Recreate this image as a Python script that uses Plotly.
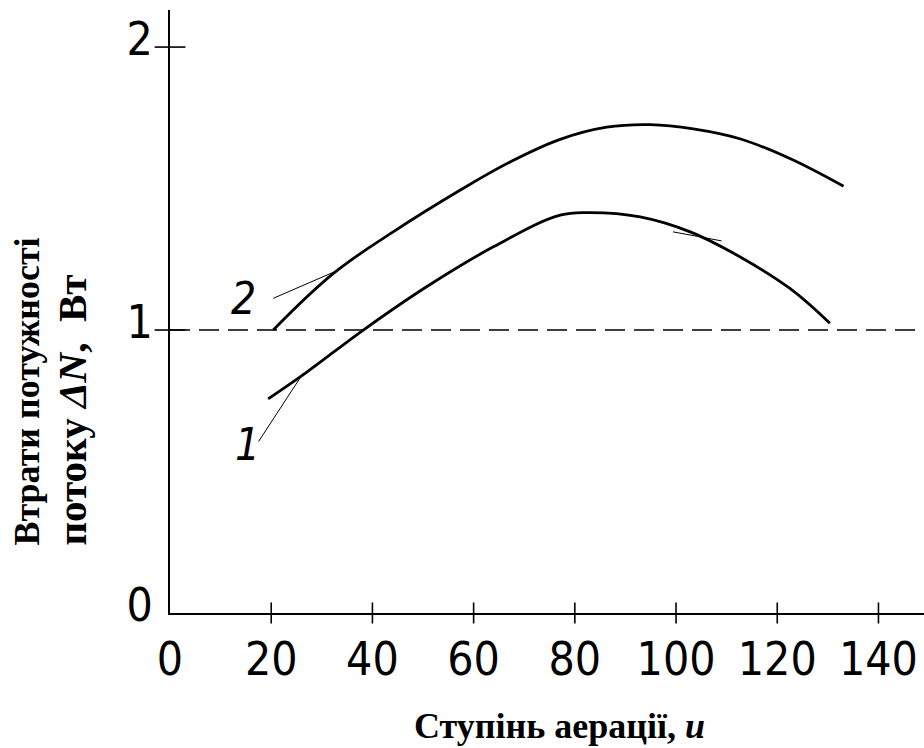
import plotly.graph_objects as go

# Aeration degree u and power-loss readings for the two curves
u_curve1 = [19.4, 26.7, 38.2, 50.7, 63.9, 77.1, 83.0, 92.9, 102.8, 112.6, 122.5, 130.4]
dn_curve1 = [0.757, 0.847, 1.000, 1.153, 1.294, 1.406, 1.415, 1.400, 1.347, 1.259, 1.147, 1.024]

u_curve2 = [20.4, 32.3, 44.1, 57.3, 67.2, 77.1, 86.3, 94.9, 103.4, 112.6, 122.5, 133.1]
dn_curve2 = [1.000, 1.200, 1.347, 1.494, 1.594, 1.674, 1.717, 1.726, 1.711, 1.676, 1.606, 1.508]

# Reference level drawn as a dashed line
ref_level = 1.0

# Axis ticks
x_tick_vals = [0, 20, 40, 60, 80, 100, 120, 140]
y_tick_vals = [0, 1, 2]

# Curve labels and their leader lines (u, ΔN)
label_text = ["1", "2"]
label_u = [15.4, 14.6]
label_dn = [0.594, 1.113]
leader1_u = [17.5, 26.3]
leader1_dn = [0.606, 0.847]
leader2_u = [20.4, 33.3]
leader2_dn = [1.112, 1.212]
leader3_u = [99.4, 109.0]
leader3_dn = [1.347, 1.315]

X_MAX = 149.0
Y_MAX = 2.131

tick_font = dict(family="DejaVu Sans Condensed, Liberation Sans Narrow, DejaVu Sans, sans-serif",
                 size=46, color="black")
title_font = "Liberation Serif, Times New Roman, serif"

fig = go.Figure()

# Dashed reference line across the full width
fig.add_trace(go.Scatter(x=[0, X_MAX], y=[ref_level, ref_level], mode="lines",
                         line=dict(color="black", width=1.6, dash="20px,9px"),
                         hoverinfo="skip", cliponaxis=False))

for xs, ys in ((u_curve1, dn_curve1), (u_curve2, dn_curve2)):
    fig.add_trace(go.Scatter(x=xs, y=ys, mode="lines",
                             line=dict(color="black", width=2.8, shape="spline",
                                       smoothing=1.1)))

for xs, ys in ((leader1_u, leader1_dn), (leader2_u, leader2_dn), (leader3_u, leader3_dn)):
    fig.add_trace(go.Scatter(x=xs, y=ys, mode="lines",
                             line=dict(color="black", width=1.0)))

# Cross-shaped tick marks straddling the axes
fig.add_trace(go.Scatter(x=x_tick_vals[1:], y=[0] * (len(x_tick_vals) - 1),
                         mode="markers", cliponaxis=False,
                         marker=dict(symbol="line-ns-open", size=15, color="black",
                                     line=dict(color="black", width=1.6))))
fig.add_trace(go.Scatter(x=[0] * (len(y_tick_vals) - 1), y=y_tick_vals[1:],
                         mode="markers", cliponaxis=False,
                         marker=dict(symbol="line-ew-open", size=22, color="black",
                                     line=dict(color="black", width=1.6))))

for t, xu, yd in zip(label_text, label_u, label_dn):
    fig.add_annotation(x=xu, y=yd, text=t, showarrow=False,
                       font=dict(family=tick_font["family"], size=44,
                                 color="black", style="italic"))

# Axis titles
fig.add_annotation(xref="paper", yref="paper", x=0.517, y=-0.187, yanchor="middle",
                   text="<b>Ступінь аерації, <i>u</i></b>", showarrow=False,
                   font=dict(family=title_font, size=36, color="black"))
fig.add_annotation(xref="paper", yref="paper", x=-0.158, y=0.367, xanchor="center",
                   yanchor="middle", textangle=-90, align="left",
                   text=("<b>Втрати потужності<br>"
                         "<span style='font-size:41px'>потоку <i>ΔN</i>,  Вт</span></b>"),
                   showarrow=False,
                   font=dict(family=title_font, size=36, color="black"))

fig.update_xaxes(range=[0, X_MAX], tickvals=x_tick_vals, ticks="",
                 showline=True, linecolor="black", linewidth=2,
                 showgrid=False, zeroline=False, tickfont=tick_font,
                 ticklabelstandoff=5)
fig.update_yaxes(range=[0, Y_MAX], tickvals=y_tick_vals, ticks="",
                 showline=True, linecolor="black", linewidth=2,
                 showgrid=False, zeroline=False, tickfont=tick_font,
                 ticklabelstandoff=6, ticklabelshift=-8)

fig.update_layout(width=924, height=748, showlegend=False,
                  plot_bgcolor="white", paper_bgcolor="white",
                  margin=dict(l=170, r=0, t=10, b=135))

fig.write_html("out.html")
